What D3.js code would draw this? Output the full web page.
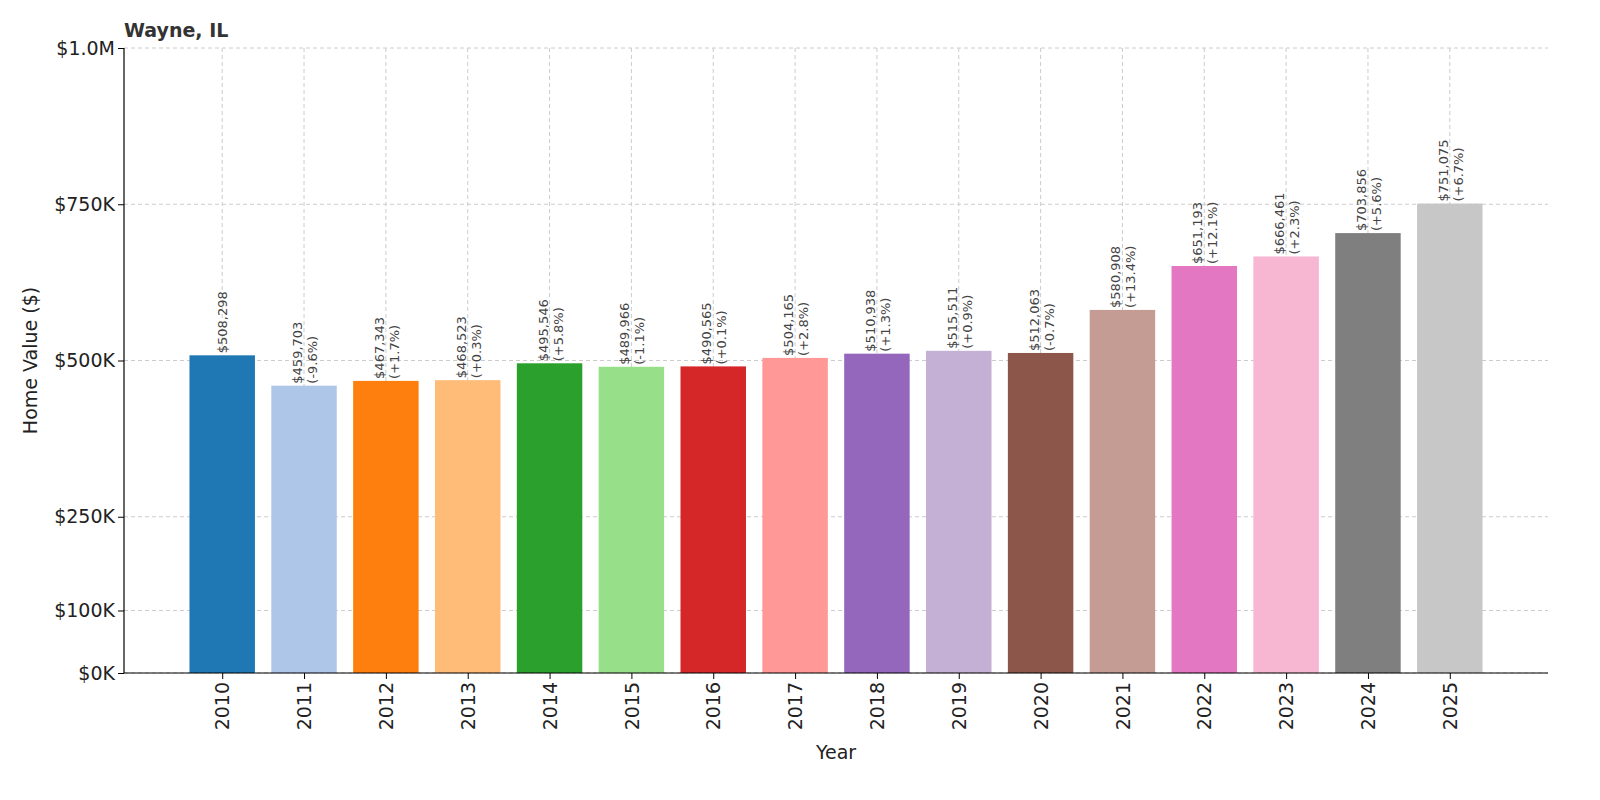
<!DOCTYPE html>
<html><head><meta charset="utf-8">
<script src="https://cdn.jsdelivr.net/npm/d3@7"></script>
<style>body{margin:0;background:#fff;font-family:"DejaVu Sans",sans-serif}</style>
</head><body><svg id="c" width="1600" height="800"></svg>
<script>
const years=["2010","2011","2012","2013","2014","2015","2016","2017","2018","2019","2020","2021","2022","2023","2024","2025"];
const values=[508298,459703,467343,468523,495546,489966,490565,504165,510938,515511,512063,580908,651193,666461,703856,751075];
const changes=["","-9.6%","+1.7%","+0.3%","+5.8%","-1.1%","+0.1%","+2.8%","+1.3%","+0.9%","-0.7%","+13.4%","+12.1%","+2.3%","+5.6%","+6.7%"];
const colors=["#1f77b4","#aec7e8","#ff7f0e","#ffbb78","#2ca02c","#98df8a","#d62728","#ff9896","#9467bd","#c5b0d5","#8c564b","#c49c94","#e377c2","#f7b6d2","#7f7f7f","#c7c7c7"];
const yTicks=[0,100000,250000,500000,750000,1000000];
const yTickLabels=["$0K","$100K","$250K","$500K","$750K","$1.0M"];

const svg=d3.select("#c");
const L=124,R=1548,T=48,B=673;
const x=d3.scaleLinear().domain([-1.2,16.2]).range([L,R]);
const y=d3.scaleLinear().domain([0,1000000]).range([B,T]);
const bw=x(0.4)-x(-0.4);
const g=svg.append("g");
// grid
g.selectAll(".gy").data(yTicks).join("line").attr("x1",L).attr("x2",R).attr("y1",d=>y(d)).attr("y2",d=>y(d)).attr("stroke","#ccc").attr("stroke-dasharray","4,3");
g.selectAll(".gx").data(years).join("line").attr("x1",(d,i)=>x(i)).attr("x2",(d,i)=>x(i)).attr("y1",T).attr("y2",B).attr("stroke","#ccc").attr("stroke-dasharray","4,3");
// bars
g.selectAll("rect").data(values).join("rect").attr("x",(d,i)=>x(i)-bw/2).attr("width",bw).attr("y",d=>y(d)).attr("height",d=>B-y(d)).attr("fill",(d,i)=>colors[i]);
// labels
values.forEach((v,i)=>{
  const lines=["$"+d3.format(",")(v)];
  if(changes[i]) lines.push("("+changes[i]+")");
  const cx=x(i), ty=y(v)-2;
  const t=g.append("text").attr("transform",`translate(${cx},${ty}) rotate(-90)`).attr("font-size",13).attr("fill","#444").attr("text-anchor","start");
  const off = lines.length===2 ? -2 : 5;
  lines.forEach((s,k)=>t.append("tspan").attr("x",0).attr("y",off+k*15).text(s));
});
// axes
const ya=svg.append("g").attr("transform",`translate(${L},0)`).call(d3.axisLeft(y).tickValues(yTicks).tickFormat((d,i)=>yTickLabels[i]).tickSize(6));
ya.selectAll("text").attr("font-size",19).attr("fill","#222").attr("font-family","DejaVu Sans");
const xa=svg.append("g").attr("transform",`translate(0,${B})`).call(d3.axisBottom(x).tickValues(d3.range(16)).tickFormat(i=>years[i]).tickSize(6));
xa.select(".domain").attr("d",`M${L},0H${R}`);
xa.selectAll("text").attr("font-size",19).attr("fill","#222").attr("font-family","DejaVu Sans").attr("transform","rotate(-90)").attr("text-anchor","end").attr("x",-9).attr("y",0).attr("dy","0.35em");
ya.select(".domain").attr("d",`M0,${T}V${B}`);
svg.selectAll(".domain").attr("stroke","#000").attr("stroke-width",1.2);
svg.append("text").attr("x",(L+R)/2).attr("y",759).attr("text-anchor","middle").attr("font-size",19).attr("fill","#222").text("Year");
svg.append("text").attr("transform",`translate(37,${(T+B)/2}) rotate(-90)`).attr("text-anchor","middle").attr("font-size",19).attr("fill","#222").text("Home Value ($)");
svg.append("text").attr("x",L).attr("y",37).attr("font-size",19).attr("font-weight","bold").attr("fill","#333").text("Wayne, IL");
</script></body></html>
